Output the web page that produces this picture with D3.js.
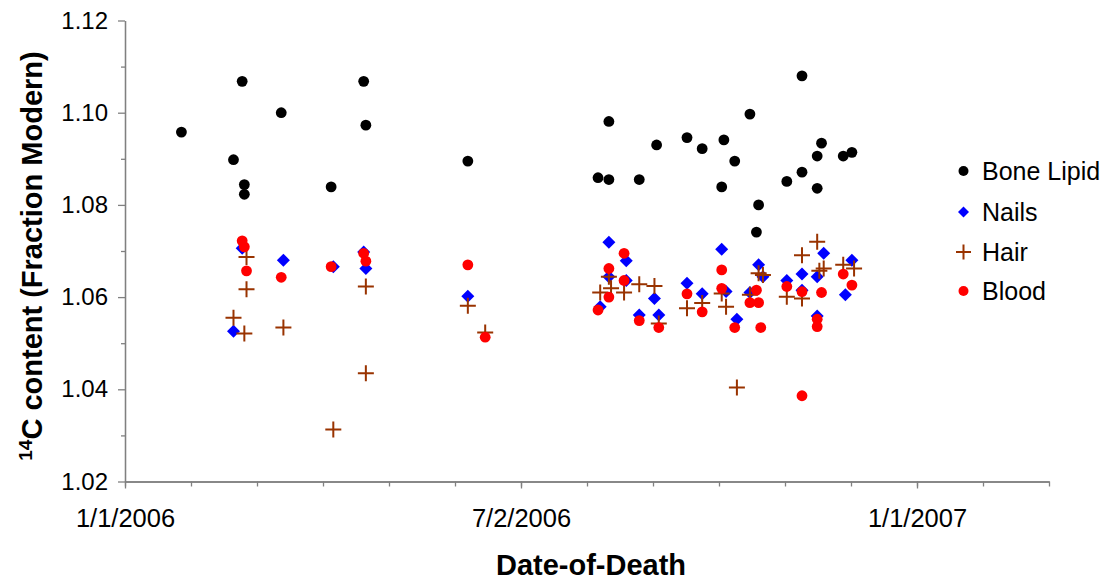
<!DOCTYPE html>
<html>
<head>
<meta charset="utf-8">
<script src="https://cdn.jsdelivr.net/npm/d3@7"></script>
<style>
  html, body { margin: 0; padding: 0; background: #ffffff; }
  svg { display: block; font-family: "Liberation Sans", Arial, sans-serif; }
</style>
</head>
<body>
<svg id="chart" width="1105" height="580"></svg>
<script>
// ---- Data (date of death, 14C fraction modern) ----
const boneLipid = [
  ["2006-01-27", 1.0958], ["2006-02-20", 1.0898], ["2006-02-24", 1.1068], ["2006-02-25", 1.0844],
  ["2006-02-25", 1.0823], ["2006-03-14", 1.1000], ["2006-04-06", 1.0839], ["2006-04-21", 1.1068],
  ["2006-04-22", 1.0973], ["2006-06-08", 1.0895], ["2006-08-07", 1.0859], ["2006-08-12", 1.0981],
  ["2006-08-12", 1.0855], ["2006-08-26", 1.0855], ["2006-09-03", 1.0930], ["2006-09-17", 1.0946],
  ["2006-09-24", 1.0922], ["2006-10-03", 1.0839], ["2006-10-04", 1.0941], ["2006-10-09", 1.0895],
  ["2006-10-16", 1.0997], ["2006-10-19", 1.0741], ["2006-10-20", 1.0800], ["2006-11-02", 1.0851],
  ["2006-11-09", 1.1080], ["2006-11-09", 1.0871], ["2006-11-16", 1.0906], ["2006-11-16", 1.0836],
  ["2006-11-18", 1.0934], ["2006-11-28", 1.0906], ["2006-12-02", 1.0914]
];
const nails = [
  ["2006-02-20", 1.0526], ["2006-02-24", 1.0706], ["2006-03-15", 1.0680], ["2006-04-07", 1.0666],
  ["2006-04-21", 1.0698], ["2006-04-22", 1.0662], ["2006-06-08", 1.0602], ["2006-08-08", 1.0579],
  ["2006-08-12", 1.0719], ["2006-08-12", 1.0644], ["2006-08-20", 1.0679], ["2006-08-20", 1.0636],
  ["2006-08-26", 1.0561], ["2006-09-02", 1.0597], ["2006-09-04", 1.0561], ["2006-09-17", 1.0630],
  ["2006-09-24", 1.0607], ["2006-10-03", 1.0704], ["2006-10-05", 1.0612], ["2006-10-10", 1.0552],
  ["2006-10-16", 1.0610], ["2006-10-20", 1.0670], ["2006-10-22", 1.0644], ["2006-11-02", 1.0636],
  ["2006-11-09", 1.0650], ["2006-11-09", 1.0615], ["2006-11-16", 1.0644], ["2006-11-16", 1.0559],
  ["2006-11-19", 1.0695], ["2006-11-29", 1.0605], ["2006-12-02", 1.0680]
];
const hair = [
  ["2006-02-20", 1.0555], ["2006-02-25", 1.0521], ["2006-02-26", 1.0687], ["2006-02-26", 1.0617],
  ["2006-03-15", 1.0534], ["2006-04-07", 1.0313], ["2006-04-22", 1.0435], ["2006-04-22", 1.0623],
  ["2006-06-08", 1.0581], ["2006-06-16", 1.0523], ["2006-08-08", 1.0610], ["2006-08-12", 1.0644],
  ["2006-08-13", 1.0619], ["2006-08-19", 1.0610], ["2006-08-26", 1.0628], ["2006-09-02", 1.0624],
  ["2006-09-04", 1.0543], ["2006-09-17", 1.0576], ["2006-09-24", 1.0587], ["2006-10-03", 1.0608],
  ["2006-10-05", 1.0579], ["2006-10-10", 1.0404], ["2006-10-16", 1.0605], ["2006-10-20", 1.0652],
  ["2006-10-22", 1.0648], ["2006-11-02", 1.0601], ["2006-11-09", 1.0691], ["2006-11-09", 1.0597],
  ["2006-11-16", 1.0720], ["2006-11-17", 1.0657], ["2006-11-19", 1.0662], ["2006-11-28", 1.0670],
  ["2006-12-03", 1.0662]
];
const blood = [
  ["2006-02-24", 1.0722], ["2006-02-25", 1.0709], ["2006-02-26", 1.0657], ["2006-03-14", 1.0643],
  ["2006-04-06", 1.0666], ["2006-04-21", 1.0695], ["2006-04-22", 1.0678], ["2006-06-08", 1.0670],
  ["2006-06-16", 1.0513], ["2006-08-07", 1.0572], ["2006-08-12", 1.0662], ["2006-08-12", 1.0600],
  ["2006-08-19", 1.0695], ["2006-08-19", 1.0636], ["2006-08-26", 1.0549], ["2006-09-04", 1.0534],
  ["2006-09-17", 1.0607], ["2006-09-24", 1.0568], ["2006-10-03", 1.0659], ["2006-10-03", 1.0619],
  ["2006-10-09", 1.0534], ["2006-10-16", 1.0588], ["2006-10-19", 1.0615], ["2006-10-20", 1.0588],
  ["2006-10-21", 1.0534], ["2006-11-02", 1.0623], ["2006-11-09", 1.0612], ["2006-11-09", 1.0386],
  ["2006-11-16", 1.0552], ["2006-11-16", 1.0536], ["2006-11-18", 1.0610], ["2006-11-28", 1.0650],
  ["2006-12-02", 1.0626]
];
const seriesNames = ["Bone Lipid", "Nails", "Hair", "Blood"];
const yMajorTicks = [1.02, 1.04, 1.06, 1.08, 1.10, 1.12];
const yMinorTicks = [1.03, 1.05, 1.07, 1.09, 1.11];
const xStartDate = "2006-01-01";
const xMajorUnitDays = 182.5;   // axis major unit
const xMinorCount = 14;         // minor intervals (major / 6)
const xLabelFormat = "%-m/%-d/%Y";
const xTitle = "Date-of-Death";
const yTitleSup = "14";
const yTitleMain = "C content (Fraction Modern)";

// ---- Setup ----
const parse = d3.timeParse("%Y-%m-%d");
const DAY = 864e5;
const t0 = parse(xStartDate).getTime();
const minorDays = xMajorUnitDays / 6;
const xMinorTicks = d3.range(0, xMinorCount + 1).map(i => new Date(t0 + i * minorDays * DAY));
const xMajorTicks = [0, 1, 2].map(i => new Date(t0 + i * xMajorUnitDays * DAY));

const plotL = 125, plotR = 1049, plotT = 20.5, plotB = 481.5;
const svg = d3.select("#chart");
svg.append("rect").attr("width", 1105).attr("height", 580).attr("fill", "#fff");

const x = d3.scaleTime()
  .domain([new Date(t0), new Date(t0 + xMinorCount * minorDays * DAY)])
  .range([plotL, plotR]);
const y = d3.scaleLinear().domain([1.02, 1.12]).range([plotB, plotT]);

const axisColor = "#808080";
const fmtY = d3.format(".2f");
const fmtX = d3.timeFormat(xLabelFormat);

// Y axis
const gyMinor = svg.append("g").attr("transform", `translate(${plotL},0)`)
  .call(d3.axisLeft(y).tickValues(yMinorTicks).tickSize(4).tickSizeOuter(0).tickFormat(""));
const gy = svg.append("g").attr("transform", `translate(${plotL},0)`)
  .call(d3.axisLeft(y).tickValues(yMajorTicks).tickSize(7).tickSizeOuter(0).tickPadding(10).tickFormat(fmtY));
// X axis
const gxMinor = svg.append("g").attr("transform", `translate(0,${plotB})`)
  .call(d3.axisBottom(x).tickValues(xMinorTicks).tickSize(5).tickSizeOuter(0).tickFormat(""));
const gx = svg.append("g").attr("transform", `translate(0,${plotB})`)
  .call(d3.axisBottom(x).tickValues(xMajorTicks).tickSize(7).tickSizeOuter(0).tickPadding(20).tickFormat(fmtX));

[gyMinor, gy, gxMinor, gx].forEach(g => {
  g.selectAll("path.domain").attr("stroke", axisColor).attr("stroke-width", 1.3);
  g.selectAll(".tick line").attr("stroke", axisColor).attr("stroke-width", 1.3);
  g.selectAll(".tick text").attr("fill", "#000")
    .style("font-family", "'Liberation Sans', Arial, sans-serif");
});
gy.selectAll(".tick text").style("font-size", "24px");
gx.selectAll(".tick text").style("font-size", "25.5px");

// Titles
svg.append("text")
  .attr("x", 591).attr("y", 575)
  .attr("text-anchor", "middle")
  .style("font-size", "29px").style("font-weight", "bold")
  .text(xTitle);

const yt = svg.append("text")
  .attr("transform", "translate(42,256) rotate(-90)")
  .attr("text-anchor", "middle")
  .style("font-size", "29px").style("font-weight", "bold");
yt.append("tspan").attr("baseline-shift", "super").style("font-size", "19px").text(yTitleSup);
yt.append("tspan").text(yTitleMain);

// ---- Markers ----
const plot = svg.append("g");
const px = d => x(parse(d[0]));
const py = d => y(d[1]);

function drawCircle(g, cx, cy, r, color) {
  g.append("circle").attr("cx", cx).attr("cy", cy).attr("r", r).attr("fill", color);
}
function drawDiamond(g, cx, cy, s, color) {
  g.append("path")
    .attr("d", `M${cx},${cy - s}L${cx + s},${cy}L${cx},${cy + s}L${cx - s},${cy}Z`)
    .attr("fill", color);
}
function drawPlus(g, cx, cy, s, color) {
  g.append("path")
    .attr("d", `M${cx - s},${cy}H${cx + s}M${cx},${cy - s}V${cy + s}`)
    .attr("stroke", color).attr("stroke-width", 2).attr("fill", "none");
}

const gBone = plot.append("g");
boneLipid.forEach(d => drawCircle(gBone, px(d), py(d), 5.4, "#000000"));
const gNails = plot.append("g");
nails.forEach(d => drawDiamond(gNails, px(d), py(d), 6.5, "#0000FF"));
const gHair = plot.append("g");
hair.forEach(d => drawPlus(gHair, px(d), py(d), 8, "#993300"));
const gBlood = plot.append("g");
blood.forEach(d => drawCircle(gBlood, px(d), py(d), 5.4, "#FF0000"));

// ---- Legend ----
const legendY = [171, 212, 252, 291];
const lg = svg.append("g");
seriesNames.forEach((name, i) => {
  const cy = legendY[i];
  if (i === 0) drawCircle(lg, 963.5, cy, 5, "#000000");
  if (i === 1) drawDiamond(lg, 963.5, cy, 5.5, "#0000FF");
  if (i === 2) drawPlus(lg, 963.5, cy, 7.5, "#993300");
  if (i === 3) drawCircle(lg, 963.5, cy, 5, "#FF0000");
  lg.append("text").attr("x", 982).attr("y", cy + 9)
    .style("font-size", "25px").text(name);
});
</script>
</body>
</html>
